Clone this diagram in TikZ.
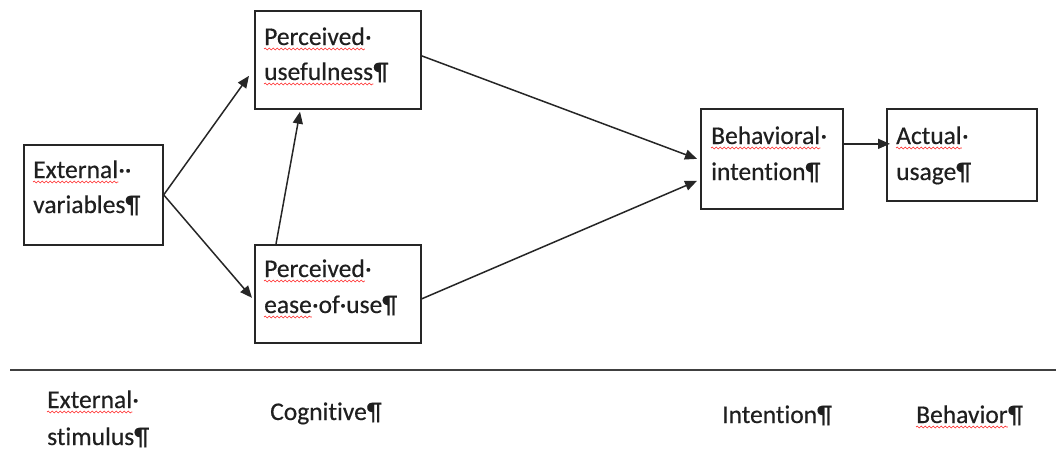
\documentclass[tikz,border=0pt]{standalone}
\usepackage{fontspec}
\setmainfont[Ligatures=NoCommon,FakeBold=0.4]{Carlito}
\usetikzlibrary{arrows.meta,decorations.pathmorphing}
\begin{document}
\begin{tikzpicture}[x=1pt,y=-1pt,
  box/.style={draw=black!85, line width=1.7pt, inner sep=0pt, anchor=north west},
  txt/.style={anchor=base west, inner sep=0pt, font=\fontsize{25.5}{35}\selectfont, text=black!88},
  arr/.style={line width=1.5pt, draw=black!85, -{Triangle[length=12pt,width=10pt]}},
  rule/.style={line width=1.8pt, draw=black!75},
  squig/.style={draw=red!85, line width=0.6pt, decorate, decoration={snake, amplitude=0.9pt, segment length=4pt}}]
\useasboundingbox (0,0) rectangle (1056,451);
% boxes
\node[box, minimum width=139pt, minimum height=100pt] (ext) at (23,144) {};
\node[box, minimum width=166pt, minimum height=98pt] (pu) at (254,10) {};
\node[box, minimum width=166pt, minimum height=98pt] (pe) at (254,244) {};
\node[box, minimum width=142pt, minimum height=100pt] (bi) at (700,108) {};
\node[box, minimum width=150pt, minimum height=92pt] (au) at (886,108) {};
% box texts
\node[txt] (ext1) at (33,178) {External};
\node[txt] (ext1b) at (ext1.base east) {··};
\node[txt] (ext2) at (33,213) {variables¶};
\node[txt] (pu1) at (264,45) {Perceived};
\node[txt] (pu1b) at (pu1.base east) {·};
\node[txt] (pu2) at (264,80) {usefulness};
\node[txt] (pu2b) at (pu2.base east) {¶};
\node[txt] (pe1) at (264,277) {Perceived};
\node[txt] (pe1b) at (pe1.base east) {·};
\node[txt] (pe2) at (264,313) {ease};
\node[txt] (pe2b) at (pe2.base east) {·of·use¶};
\node[txt] (bi1) at (711,144) {Behavioral};
\node[txt] (bi1b) at (bi1.base east) {·};
\node[txt] (bi2) at (711,180) {intention¶};
\node[txt] (au1) at (896,144) {Actual};
\node[txt] (au1b) at (au1.base east) {·};
\node[txt] (au2) at (896,180) {usage¶};
% spelling squiggles
\draw[squig] ([yshift=-4pt]ext1.base west) -- ([yshift=-4pt]ext1.base east);
\draw[squig] ([yshift=-4pt]pu1.base west) -- ([yshift=-4pt]pu1.base east);
\draw[squig] ([yshift=-4pt]pu2.base west) -- ([yshift=-4pt]pu2.base east);
\draw[squig] ([yshift=-4pt]pe1.base west) -- ([yshift=-4pt]pe1.base east);
\draw[squig] ([yshift=-4pt]pe2.base west) -- ([yshift=-4pt]pe2.base east);
\draw[squig] ([yshift=-4pt]bi1.base west) -- ([yshift=-4pt]bi1.base east);
\draw[squig] ([yshift=-4pt]au1.base west) -- ([yshift=-4pt]au1.base east);
% arrows
\draw[arr] (ext.east) -- ([xshift=-5pt,yshift=-16pt]pu.west);
\draw[arr] (ext.east) -- ([xshift=-2pt,yshift=-4pt]pe.west);
\draw[arr] ([xshift=22pt]pe.north west) -- ([xshift=46pt,yshift=-2pt]pu.south west);
\draw[arr] ([yshift=4pt]pu.east) -- ([xshift=-3pt]bi.west);
\draw[arr] ([yshift=-5pt]pe.east) -- ([xshift=-3pt,yshift=-22pt]bi.west);
\draw[arr] ([yshift=15pt]bi.east) -- ([xshift=4pt,yshift=11pt]au.west);
% separator
\coordinate (r1) at (10,370);
\coordinate (r2) at (1056,370);
\draw[rule] (r1) -- (r2);
% bottom labels
\node[txt] (s1) at (47,408) {External};
\node[txt] (s1b) at (s1.base east) {·};
\node[txt] (s2) at (47,445) {stimulus¶};
\node[txt] (c1) at (270,420) {Cognitive¶};
\node[txt] (i1) at (722,423) {Intention¶};
\node[txt] (b1) at (916,423) {Behavior};
\node[txt] (b1b) at (b1.base east) {¶};
\draw[squig] ([yshift=-4pt]s1.base west) -- ([yshift=-4pt]s1.base east);
\draw[squig] ([yshift=-4pt]b1.base west) -- ([yshift=-4pt]b1.base east);
\end{tikzpicture}
\end{document}
